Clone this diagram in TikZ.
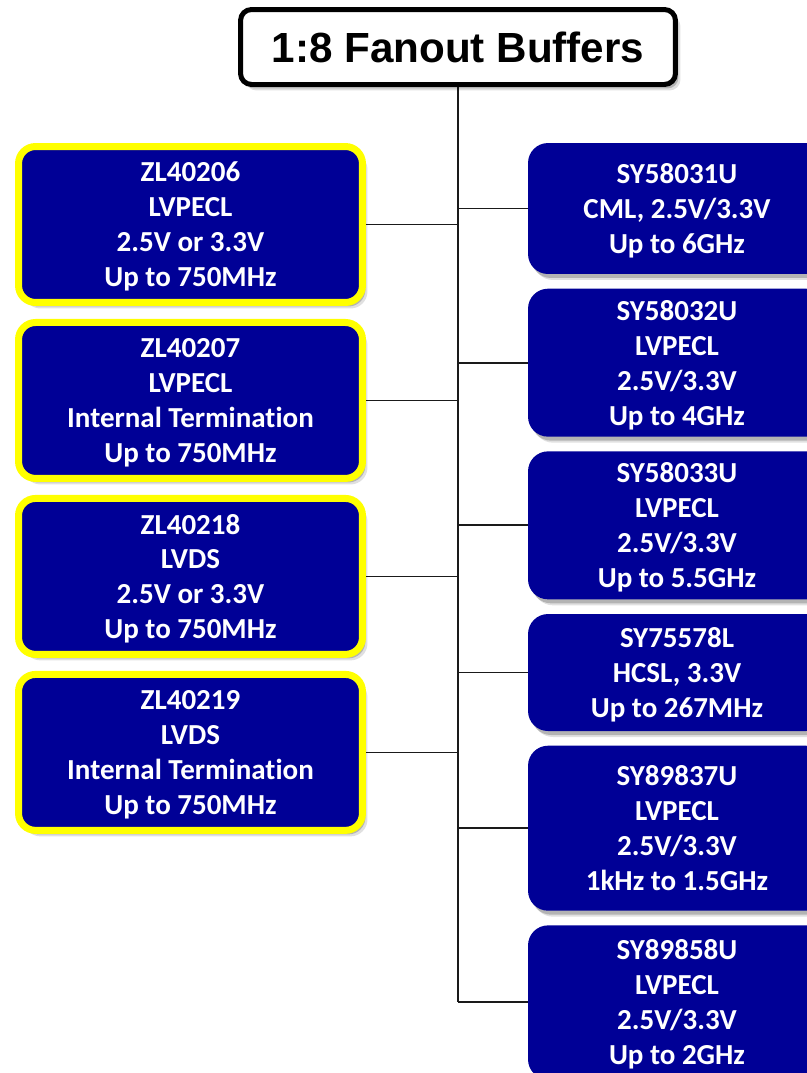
\documentclass[tikz,border=0pt]{standalone}
\usepackage{fontspec}
\setmainfont{Carlito}[Ligatures=NoCommon]
\newfontfamily\titlefont{Liberation Sans}
\usepackage{xcolor}
\definecolor{colBlue}{HTML}{000096}
\definecolor{colYellow}{HTML}{FFFF00}
\definecolor{colLine}{HTML}{1A1A1A}
\usetikzlibrary{positioning, shadows, backgrounds}
\tikzset{
    myshadow/.style={
        drop shadow={shadow xshift=0.1cm, shadow yshift=-0.12cm,
                     fill=black, opacity=0.12},
        drop shadow={shadow xshift=0.06cm, shadow yshift=-0.08cm,
                     fill=black, opacity=0.2}
    },
    partbox/.style={
        fill=colBlue, text=white,
        rounded corners=0.4cm,
        minimum width=5.96cm,
        align=center, inner sep=0pt,
        font=\fontsize{16.5}{19.9}\selectfont\bfseries,
        text depth=0pt,
        myshadow
    },
    zlbox/.style={
        partbox, draw=colYellow, line width=0.14cm,
        rounded corners=0.34cm,
        minimum width=6.88cm, minimum height=3.12cm
    },
    titlebox/.style={
        draw=black, fill=white, line width=0.1cm,
        rounded corners=0.22cm,
        minimum width=8.7cm, minimum height=1.5cm,
        font=\titlefont\fontsize{24}{28}\selectfont\bfseries,
        myshadow
    },
    mylink/.style={line width=0.035cm, color=colLine},
}
\begin{document}
\begin{tikzpicture}[x=0.02cm, y=0.02cm]
    \useasboundingbox (0,0) rectangle (807,-1073);
    \clip (0,0) rectangle (807,-1073);
    \node[titlebox] (title) at (458,-47) {1:8 Fanout Buffers};

    \node[zlbox] (zl206) at (190.5,-224.5)
          {ZL40206\\LVPECL\\2.5V or 3.3V\\Up to 750MHz};
    \node[zlbox, below=0.26cm of zl206] (zl207)
          {ZL40207\\LVPECL\\Internal Termination\\Up to 750MHz};
    \node[zlbox, below=0.26cm of zl207] (zl218)
          {ZL40218\\LVDS\\2.5V or 3.3V\\Up to 750MHz};
    \node[zlbox, below=0.26cm of zl218] (zl219)
          {ZL40219\\LVDS\\Internal Termination\\Up to 750MHz};

    \node[partbox, minimum height=2.62cm] (sy031) at (677,-208.5)
          {SY58031U\\CML, 2.5V/3.3V\\Up to 6GHz};
    \node[partbox, minimum height=2.96cm, below=0.28cm of sy031] (sy032)
          {SY58032U\\LVPECL\\2.5V/3.3V\\Up to 4GHz};
    \node[partbox, minimum height=2.96cm, below=0.28cm of sy032] (sy033)
          {SY58033U\\LVPECL\\2.5V/3.3V\\Up to 5.5GHz};
    \node[partbox, minimum height=2.34cm, below=0.28cm of sy033] (sy578)
          {SY75578L\\HCSL, 3.3V\\Up to 267MHz};
    \node[partbox, minimum height=3.3cm, below=0.28cm of sy578] (sy837)
          {SY89837U\\LVPECL\\2.5V/3.3V\\1kHz to 1.5GHz};
    \node[partbox, minimum height=3.08cm, below=0.28cm of sy837] (sy858)
          {SY89858U\\LVPECL\\2.5V/3.3V\\Up to 2GHz};

    \coordinate (trunkend) at (title.south |- sy858.west);
    \begin{scope}[on background layer]
        \draw[mylink, line width=0.045cm] (title.south) -- (trunkend);
        \foreach \n in {zl206, zl207, zl218, zl219}
            \draw[mylink] (\n.east) -- (\n.east -| trunkend);
        \foreach \n in {sy031, sy032, sy033, sy578, sy837, sy858}
            \draw[mylink] (\n.west) -- (\n.west -| trunkend);
    \end{scope}
\end{tikzpicture}
\end{document}
